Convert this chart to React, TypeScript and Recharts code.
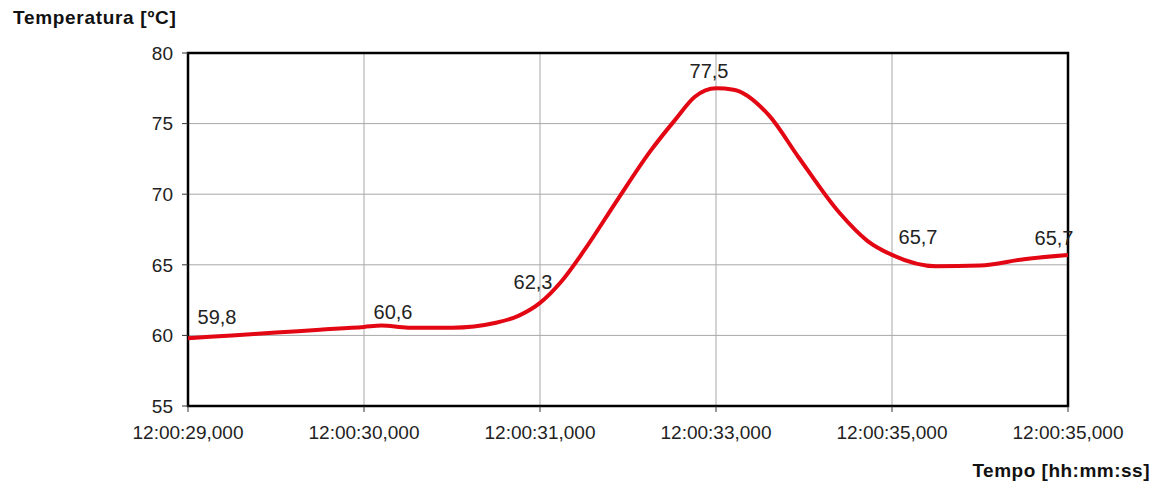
import React from 'react';
import {
  LineChart,
  Line,
  XAxis,
  YAxis,
  CartesianGrid,
  ReferenceArea,
  LabelList,
} from 'recharts';

// sample position on the time axis (0..5 = tick slots) and temperature in ºC
const positions = [
  0, 0.25, 0.5, 0.75, 1, 1.1, 1.25, 1.5, 1.75, 1.88, 2, 2.12, 2.25, 2.44, 2.63,
  2.77, 2.88, 3, 3.1, 3.3, 3.47, 3.7, 3.86, 4, 4.25, 4.5, 4.75, 5,
];
const temperatures = [
  59.8, 60.0, 60.2, 60.4, 60.6, 60.7, 60.55, 60.55, 60.9, 61.4, 62.3, 63.8, 66.0,
  69.6, 73.1, 75.3, 76.9, 77.5, 77.4, 75.6, 72.6, 68.7, 66.7, 65.7, 64.9, 64.95,
  65.4, 65.7,
];
const timeLabels = [
  '12:00:29,000',
  '12:00:30,000',
  '12:00:31,000',
  '12:00:33,000',
  '12:00:35,000',
  '12:00:35,000',
];
const yTicks = [55, 60, 65, 70, 75, 80];

const data = positions.map((t, i) => ({ t, temp: temperatures[i] }));

// label offsets for the values written at each tick slot
const labelOffsets: Record<number, [number, number]> = {
  0: [29, 21],
  1: [29, 15],
  2: [-7, 21],
  3: [-7, 17],
  4: [26, 18],
  5: [-14, 17],
};

const fontFamily = '"Liberation Sans", Arial, sans-serif';

const ValueLabel = (props: any) => {
  const { x, y, value, index } = props;
  const t = positions[index];
  if (!Number.isInteger(t)) return null;
  const [dx, dy] = labelOffsets[t];
  return (
    <text
      x={x + dx}
      y={y - dy}
      textAnchor="middle"
      dominantBaseline="central"
      fontSize={20}
      fontFamily={fontFamily}
      fill="#222"
    >
      {String(value).replace('.', ',')}
    </text>
  );
};

export default function App() {
  return (
    <div style={{ position: 'absolute', left: 0, top: 0, width: 1161, height: 486, background: '#fff' }}>
      <div
        style={{
          position: 'absolute',
          left: 13,
          top: 7,
          fontFamily,
          fontWeight: 'bold',
          fontSize: 19,
          letterSpacing: 0.7,
          color: '#111',
        }}
      >
        Temperatura [ºC]
      </div>
      <div
        style={{
          position: 'absolute',
          right: 11,
          top: 460,
          fontFamily,
          fontWeight: 'bold',
          fontSize: 19,
          letterSpacing: 0.5,
          color: '#111',
        }}
      >
        Tempo [hh:mm:ss]
      </div>
      <LineChart
        width={1161}
        height={486}
        data={data}
        margin={{ top: 53, right: 93, bottom: 50, left: 128 }}
      >
        <CartesianGrid stroke="#a8a8a8" strokeWidth={1} />
        <XAxis
          dataKey="t"
          type="number"
          domain={[0, 5]}
          ticks={[0, 1, 2, 3, 4, 5]}
          tickFormatter={(v: number) => timeLabels[v]}
          height={30}
          tickSize={6}
          tickMargin={14}
          stroke="#333"
          axisLine={false}
          tick={{ fontSize: 19, fill: '#222', fontFamily }}
          interval={0}
        />
        <YAxis
          type="number"
          domain={[55, 80]}
          ticks={yTicks}
          width={60}
          tickSize={6}
          tickMargin={9}
          stroke="#333"
          axisLine={false}
          tick={{ fontSize: 19, fill: '#222', fontFamily }}
        />
        <ReferenceArea
          x1={0}
          x2={5}
          y1={55}
          y2={80}
          fill="none"
          fillOpacity={0}
          stroke="#000"
          strokeWidth={2.5}
          ifOverflow="visible"
        />
        <Line
          type="monotone"
          dataKey="temp"
          stroke="#e30613"
          strokeWidth={4}
          dot={false}
          isAnimationActive={false}
        >
          <LabelList dataKey="temp" content={ValueLabel} />
        </Line>
      </LineChart>
    </div>
  );
}
